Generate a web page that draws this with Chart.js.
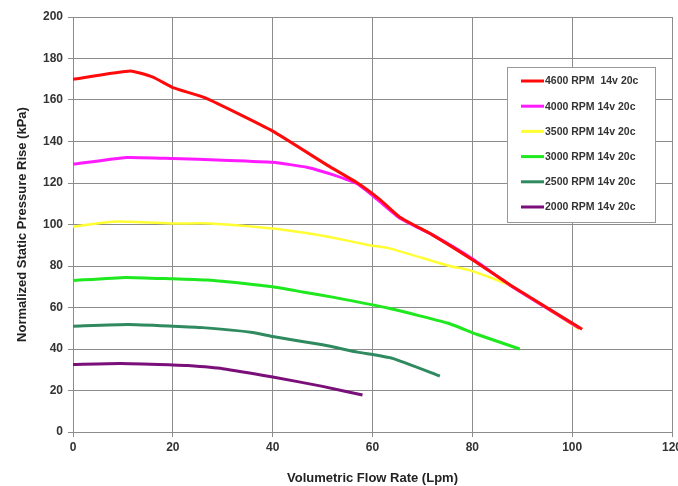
<!DOCTYPE html>
<html>
<head>
<meta charset="utf-8">
<script src="https://cdn.jsdelivr.net/npm/chart.js@4/dist/chart.umd.min.js"></script>
<style>
  html, body { margin: 0; padding: 0; background: #fff; }
  #wrap { width: 678px; height: 486px; }
</style>
</head>
<body>
<div id="wrap"><canvas id="pumpChart"></canvas></div>
<script>
// curvas: [caudal Lpm, presion kPa]
const rpm4600 = [[0, 170], [11.5, 174], [16, 171], [20, 166], [26.5, 161], [40, 145], [51, 128.5], [57, 120], [61.5, 112], [65.5, 103.5], [72, 95], [80, 83], [87.5, 71], [102, 49.5]];
const rpm4000 = [[0, 129], [10.7, 132.3], [20, 131.8], [30, 131], [40, 130], [47, 127.5], [52, 124], [57, 119.5], [61, 112], [65.5, 103], [72, 95], [80, 83.5], [88, 70], [101.5, 50]];
const rpm3500 = [[0, 99], [8.7, 101.4], [20, 100.5], [27.4, 100.5], [39.4, 98.2], [47.4, 95.7], [51.4, 94], [59.4, 90], [63.4, 88.5], [75.4, 80], [79.4, 78], [87.4, 70.8], [101.4, 49.5]];
const rpm3000 = [[0, 73], [10.5, 74.5], [20, 73.8], [27, 73.2], [40, 70], [46, 67.5], [52, 65], [63.5, 59.5], [75, 52.5], [81, 47], [89.5, 40]];
const rpm2500 = [[0, 51], [11, 51.8], [20, 51], [26, 50.3], [36, 48], [40, 46], [50, 42], [57, 38.5], [64, 35.5], [73.5, 27]];
const rpm2000 = [[0, 32.5], [9.5, 33], [20, 32.3], [23, 32], [30, 30.5], [40, 26.5], [50, 22], [58, 17.8]];

const seriesLabels = ['4600 RPM  14v 20c', '4000 RPM 14v 20c', '3500 RPM 14v 20c', '3000 RPM 14v 20c', '2500 RPM 14v 20c', '2000 RPM 14v 20c'];
const seriesData = [rpm4600, rpm4000, rpm3500, rpm3000, rpm2500, rpm2000];
const seriesColors = ['#ff0a0a', '#ff1aff', '#ffff33', '#1ee81e', '#2f8a5f', '#7a0f7a'];
const seriesWidths = [3, 3, 2.5, 3, 3, 3];

const xTicks = [0, 20, 40, 60, 80, 100, 120];
const yTicks = [0, 20, 40, 60, 80, 100, 120, 140, 160, 180, 200];

const fontFam = '"Liberation Sans", Arial, sans-serif';

// leyenda dibujada dentro del area del grafico
const boxLegend = {
  id: 'boxLegend',
  afterDraw(chart) {
    const ctx = chart.ctx;
    const left = 507, top = 67, w = 148, h = 155;
    ctx.save();
    ctx.fillStyle = '#fff';
    ctx.fillRect(left, top, w, h);
    ctx.strokeStyle = '#999';
    ctx.lineWidth = 1;
    ctx.strokeRect(left + 0.5, top + 0.5, w, h);
    ctx.font = 'bold 10.5px ' + fontFam;
    ctx.textBaseline = 'middle';
    chart.data.datasets.forEach((ds, i) => {
      const y = top + 14 + i * 25.2;
      ctx.strokeStyle = ds.borderColor;
      ctx.lineWidth = 3;
      ctx.beginPath();
      ctx.moveTo(left + 14, y);
      ctx.lineTo(left + 37, y);
      ctx.stroke();
      ctx.fillStyle = '#333';
      ctx.fillText(ds.label, left + 38, y + 0.5);
    });
    ctx.restore();
  }
};

new Chart(document.getElementById('pumpChart'), {
  type: 'line',
  data: {
    datasets: seriesData.map((pts, i) => ({
      label: seriesLabels[i],
      data: pts.map(p => ({ x: p[0], y: p[1] })),
      borderColor: seriesColors[i],
      backgroundColor: seriesColors[i],
      borderWidth: seriesWidths[i],
      pointRadius: 0,
      tension: 0.15,
      fill: false
    }))
  },
  options: {
    responsive: true,
    maintainAspectRatio: false,
    animation: false,
    layout: { padding: { top: 17, right: 6, left: 0, bottom: 0 } },
    plugins: {
      legend: { display: false },
      tooltip: { enabled: false }
    },
    scales: {
      x: {
        type: 'linear',
        min: 0,
        max: 120,
        afterBuildTicks: s => { s.ticks = xTicks.map(v => ({ value: v })); },
        afterFit: s => { s.height = 54; s.paddingRight = 0; s.paddingLeft = 0; },
        grid: { color: '#8c8c8c', lineWidth: 1, tickLength: 5 },
        border: { color: '#8c8c8c' },
        ticks: { color: '#333', padding: 3, font: { family: fontFam, size: 12, weight: 'bold' } },
        title: {
          display: true,
          text: 'Volumetric Flow Rate (Lpm)',
          color: '#222',
          padding: { top: 0, bottom: 0 },
          font: { family: fontFam, size: 13, weight: 'bold' }
        }
      },
      y: {
        min: 0,
        max: 200,
        afterBuildTicks: s => { s.ticks = yTicks.map(v => ({ value: v })); },
        afterFit: s => { s.width = 73; s.paddingTop = 0; s.paddingBottom = 0; },
        grid: { color: '#8c8c8c', lineWidth: 1, tickLength: 5 },
        border: { color: '#8c8c8c' },
        ticks: { color: '#333', padding: 5, font: { family: fontFam, size: 12, weight: 'bold' } },
        title: {
          display: true,
          text: 'Normalized Static Pressure Rise (kPa)',
          color: '#222',
          padding: { top: 15, bottom: 0 },
          font: { family: fontFam, size: 13, weight: 'bold' }
        }
      }
    }
  },
  plugins: [boxLegend]
});
</script>
</body>
</html>
